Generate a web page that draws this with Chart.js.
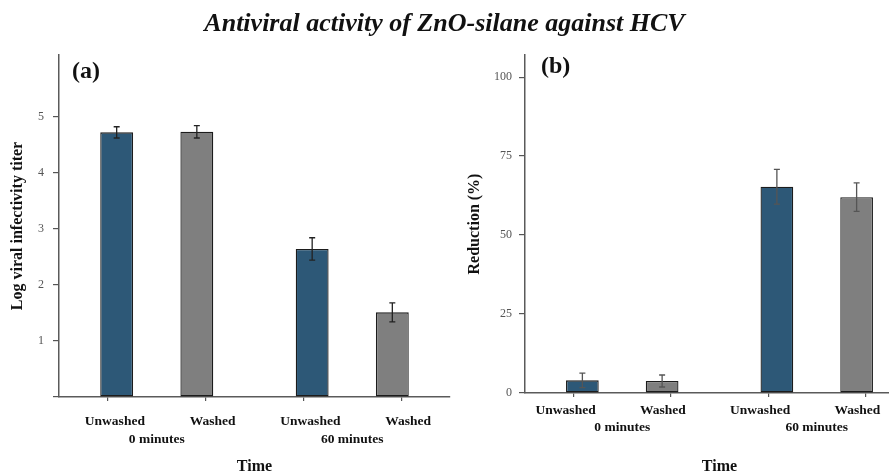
<!DOCTYPE html>
<html><head><meta charset="utf-8">
<script src="https://cdn.jsdelivr.net/npm/chart.js@4.4.0/dist/chart.umd.min.js"></script>
<style>
html,body{margin:0;padding:0;background:#fff;overflow:hidden;}
#wrap{position:relative;width:889px;height:476px;overflow:hidden;background:#fff;}
#title{position:absolute;left:0;top:8px;width:889px;text-align:center;line-height:26px;font:italic bold 26px "Liberation Serif","Times New Roman",serif;color:#111;white-space:nowrap;}
.plab{position:absolute;line-height:24px;font:bold 24px "Liberation Serif","Times New Roman",serif;color:#111;}
#cA{position:absolute;left:0;top:0;}
#cB{position:absolute;left:440px;top:0;}
</style></head>
<body><div id="wrap">
<canvas id="cA" width="460" height="476"></canvas>
<canvas id="cB" width="480" height="476"></canvas>
<div id="title">Antiviral activity of ZnO-silane against HCV</div>
<div class="plab" style="left:72px;top:57px">(a)</div>
<div class="plab" style="left:541px;top:52px">(b)</div>
</div>
<script>
// ---- data ----
const groups = ['0 minutes', '60 minutes'];
const treatments = ['Unwashed', 'Washed'];
const barLabels = ['Unwashed', 'Washed', 'Unwashed', 'Washed'];

const titerUnwashed = [4.72, 2.64];
const titerWashed = [4.73, 1.51];
const titerErrUnwashed = [0.10, 0.20];
const titerErrWashed = [0.11, 0.17];
const titerTicks = [0, 1, 2, 3, 4, 5];

const reductionUnwashed = [4.0, 65.3];
const reductionWashed = [3.8, 62.0];
const reductionErrUnwashed = [2.3, 5.5];
const reductionErrWashed = [1.9, 4.5];
const reductionTicks = [0, 25, 50, 75, 100];

// ---- drawing ----
const serif = '"Liberation Serif","Times New Roman",serif';

const errorBars = {
  id: 'errorBars',
  afterDatasetsDraw(chart, args, opts) {
    const ctx = chart.ctx, y = chart.scales.y;
    chart.data.datasets.forEach((ds, i) => {
      const meta = chart.getDatasetMeta(i);
      meta.data.forEach((bar, j) => {
        const v = ds.data[j], e = ds.errors[j];
        const yt = y.getPixelForValue(v + e), yb = y.getPixelForValue(v - e);
        ctx.save();
        ctx.strokeStyle = opts.color;
        ctx.lineWidth = 1.3;
        ctx.beginPath();
        ctx.moveTo(bar.x, yt); ctx.lineTo(bar.x, yb);
        ctx.moveTo(bar.x - 3, yt); ctx.lineTo(bar.x + 3, yt);
        ctx.moveTo(bar.x - 3, yb); ctx.lineTo(bar.x + 3, yb);
        ctx.stroke();
        ctx.restore();
      });
    });
  }
};

function makePanel(id, c) {
  return new Chart(document.getElementById(id), {
    type: 'bar',
    data: {
      labels: groups,
      datasets: [
        { label: treatments[0], data: c.u, errors: c.ue, backgroundColor: '#2d5877', borderColor: '#1c1c1c', borderWidth: 1.3, borderSkipped: false, categoryPercentage: 0.82, barPercentage: 0.41, xAxisID: 'x', yAxisID: 'y' },
        { label: treatments[1], data: c.w, errors: c.we, backgroundColor: '#7f7f7f', borderColor: '#1c1c1c', borderWidth: 1.3, borderSkipped: false, categoryPercentage: 0.82, barPercentage: 0.41, xAxisID: 'x', yAxisID: 'y' }
      ]
    },
    options: {
      responsive: false,
      animation: false,
      layout: { padding: { left: 0, right: c.padRight, top: 55, bottom: 0 } },
      plugins: { legend: { display: false }, tooltip: { enabled: false }, errorBars: { color: c.errColor } },
      scales: {
        xb: {
          type: 'category', labels: barLabels, position: 'bottom', weight: 0, offset: true,
          grid: { display: true, offset: false, drawOnChartArea: false, drawTicks: true, tickLength: 4, color: '#555', lineWidth: 1.2 },
          border: { display: true, color: '#5a5a5a', width: 1.5 },
          ticks: { padding: c.xbPad, labelOffset: c.xbShift, color: '#111', font: { family: serif, weight: 'bold', size: 13.5 }, maxRotation: 0, autoSkip: false },
          afterFit: (s) => { s.height = c.xbH; }
        },
        x: {
          type: 'category', position: 'bottom', weight: 1, offset: true,
          grid: { display: false, drawTicks: false },
          border: { display: false },
          ticks: { padding: c.xPad, color: '#111', font: { family: serif, weight: 'bold', size: 13.5 }, maxRotation: 0 },
          title: { display: true, text: 'Time', color: '#111', font: { family: serif, weight: 'bold', size: 16 }, padding: { top: 0, bottom: 0 } },
          afterFit: (s) => { s.height = c.xH; }
        },
        y: {
          type: 'linear', position: 'left', min: 0, max: c.max,
          afterBuildTicks: (s) => { s.ticks = c.ticks.map(v => ({ value: v })); },
          grid: { display: true, drawOnChartArea: false, drawTicks: true, tickLength: 6, color: '#555', lineWidth: 1.2 },
          border: { display: true, color: '#5a5a5a', width: 1.5 },
          ticks: { padding: c.yPad, color: '#555', font: { family: serif, size: 12 }, callback: c.tickCb },
          title: { display: true, text: c.yTitle, color: '#111', font: { family: serif, weight: 'bold', size: 16 }, padding: { top: c.yTitlePad, bottom: 0 } },
          afterFit: (s) => { s.width = c.yW; }
        }
      }
    },
    plugins: [errorBars]
  });
}

makePanel('cA', {
  u: titerUnwashed, w: titerWashed, ue: titerErrUnwashed, we: titerErrWashed,
  max: 6.1, ticks: titerTicks, tickCb: (v) => (v === 0 ? '' : String(v)),
  yTitle: 'Log viral infectivity titer', yTitlePad: 8, yW: 59, yPad: 9,
  padRight: 10, xbH: 33, xbPad: 12, xbShift: 7, xH: 46, xPad: 1, errColor: '#222'
});

makePanel('cB', {
  u: reductionUnwashed, w: reductionWashed, ue: reductionErrUnwashed, we: reductionErrWashed,
  max: 107, ticks: reductionTicks, tickCb: (v) => String(v),
  yTitle: 'Reduction (%)', yTitlePad: 25, yW: 85, yPad: 7,
  padRight: 6, xbH: 24, xbPad: 5, xbShift: -8, xH: 59, xPad: 2, errColor: '#555'
});
</script>
</body></html>
